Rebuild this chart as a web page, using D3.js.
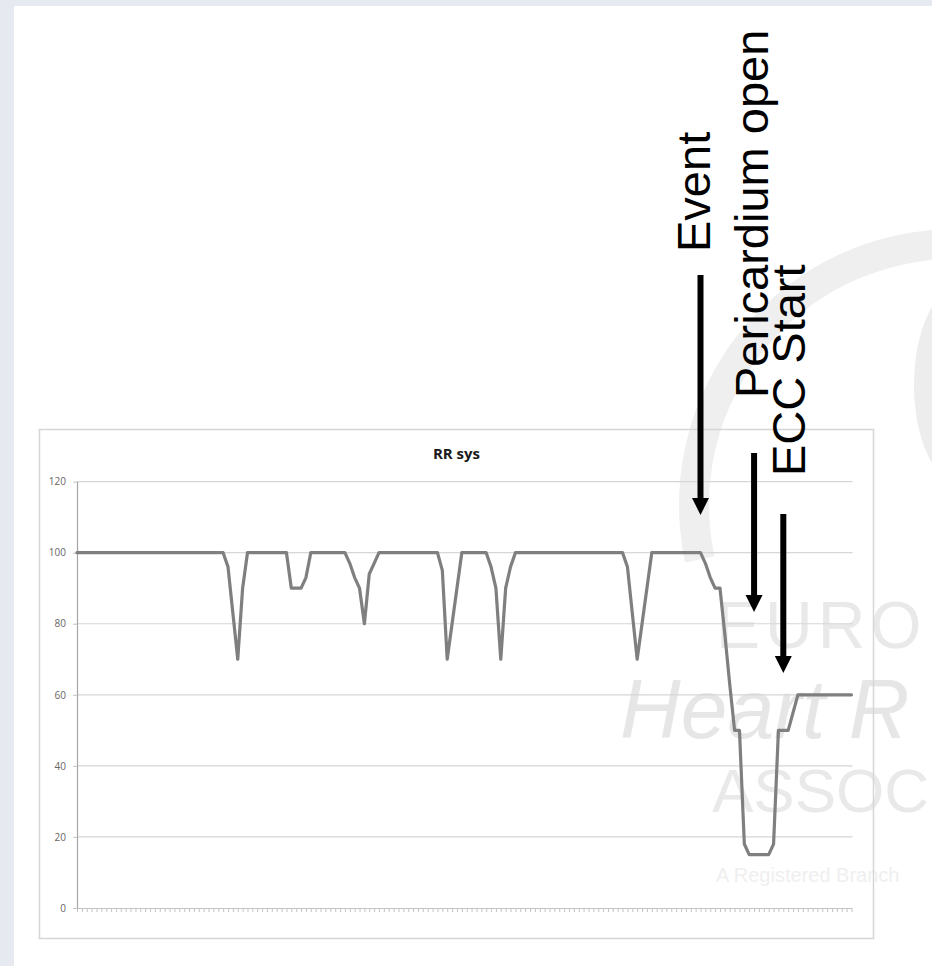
<!DOCTYPE html>
<html>
<head>
<meta charset="utf-8">
<script src="https://cdn.jsdelivr.net/npm/d3@7"></script>
<style>
  body { margin: 0; background: #ffffff; }
  svg { display: block; }
</style>
</head>
<body>
<div id="chart"></div>
<script>
// ---------------- DATA ----------------
const values = [
  100,100,100,100,100,100,100,100,100,100,
  100,100,100,100,100,100,100,100,100,100,
  100,100,100,100,100,100,100,100,100,100,
  100,96,83,70,90,100,100,100,100,100,
  100,100,100,100,90,90,90,93,100,100,
  100,100,100,100,100,100,97,93,90,80,
  94,97,100,100,100,100,100,100,100,100,
  100,100,100,100,100,95,70,80,90,100,
  100,100,100,100,100,96,90,70,90,96,
  100,100,100,100,100,100,100,100,100,100,
  100,100,100,100,100,100,100,100,100,100,
  100,100,100,96,83,70,80,90,100,100,
  100,100,100,100,100,100,100,100,100,97,
  93,90,90,77,63,50,50,18,15,15,
  15,15,15,18,50,50,50,55,60,60,
  60,60,60,60,60,60,60,60,60,60
];
const categories = values.map((_, i) => i + 1);
const yTicks = [0, 20, 40, 60, 80, 100, 120];
const chartTitle = "RR sys";
const annotationLabels = ["Event", "Pericardium open", "ECC Start"];
const annotationCategories = [129, 140, 146];
const watermarkLines = ["EURO", "Heart R", "ASSOC", "A Registered Branch"];

// ---------------- LAYOUT ----------------
const W = 932, H = 966;
const plot = { left: 77, right: 851.5, top: 481.6, bottom: 908 };
const box = { x: 39.5, y: 429.5, w: 834, h: 509 };
const arrowLayout = [
  { top: 275, tip: 515 },
  { top: 453, tip: 612 },
  { top: 514, tip: 673 }
];
const labelLayout = [
  { bx: 710, by: 252 },
  { bx: 768, by: 398 },
  { bx: 805, by: 476 }
];

const svg = d3.select("#chart").append("svg")
  .attr("width", W).attr("height", H)
  .attr("viewBox", `0 0 ${W} ${H}`);

// page background (slide frame)
svg.append("rect").attr("width", W).attr("height", H).attr("fill", "#e6e9ef");
svg.append("rect").attr("x", 14).attr("y", 6).attr("width", W - 14).attr("height", H - 6).attr("fill", "#ffffff");

// ---------------- WATERMARK ----------------
svg.append("clipPath").attr("id", "pageClip")
  .append("rect").attr("x", 14).attr("y", 6).attr("width", W - 14).attr("height", H - 6);
const wm = svg.append("g").attr("clip-path", "url(#pageClip)");
wm.append("ellipse")
  .attr("cx", 962).attr("cy", 385).attr("rx", 48).attr("ry", 100)
  .attr("fill", "#ededed");
wm.append("path")
  .attr("transform", "translate(955,505)")
  .attr("d", d3.arc().innerRadius(246).outerRadius(276)
    .startAngle(-102 * Math.PI / 180).endAngle(12 * Math.PI / 180)())
  .attr("fill", "#efefef");
const wmStyle = [
  { x: 716, y: 648, size: 66, style: "normal", spacing: 5, color: "#e9e9e9" },
  { x: 620, y: 738, size: 84, style: "italic", spacing: 0, color: "#e6e6e6" },
  { x: 712, y: 812, size: 62, style: "normal", spacing: 0, color: "#e9e9e9" },
  { x: 716, y: 882, size: 20, style: "normal", spacing: 0, color: "#efefef" }
];
wm.selectAll("text.wm").data(watermarkLines).join("text")
  .attr("class", "wm")
  .attr("x", (d, i) => wmStyle[i].x)
  .attr("y", (d, i) => wmStyle[i].y)
  .attr("font-family", "'Liberation Sans', Arial, sans-serif")
  .attr("font-size", (d, i) => wmStyle[i].size)
  .attr("font-style", (d, i) => wmStyle[i].style)
  .attr("letter-spacing", (d, i) => wmStyle[i].spacing)
  .attr("fill", (d, i) => wmStyle[i].color)
  .text(d => d);

// ---------------- CHART ----------------
svg.append("rect")
  .attr("x", box.x).attr("y", box.y).attr("width", box.w).attr("height", box.h)
  .attr("fill", "none").attr("stroke", "#d6d6d6").attr("stroke-width", 1.5);

const x = d3.scalePoint().domain(categories).range([plot.left, plot.right]);
const y = d3.scaleLinear().domain([0, 120]).range([plot.bottom, plot.top]);

// gridlines
svg.append("g").selectAll("line").data(yTicks.filter(t => t > 0)).join("line")
  .attr("x1", plot.left).attr("x2", plot.right + 1)
  .attr("y1", d => y(d)).attr("y2", d => y(d))
  .attr("stroke", "#d6d6d6").attr("stroke-width", 1.2);

// x axis
const xAxis = svg.append("g").attr("transform", `translate(0,${plot.bottom})`)
  .call(d3.axisBottom(x).tickFormat("").tickSize(4).tickSizeOuter(0));
xAxis.select(".domain").attr("stroke", "#c4c4c4");
xAxis.selectAll(".tick line").attr("stroke", "#c4c4c4");

// y axis
const yAxis = svg.append("g").attr("transform", `translate(${plot.left},0)`)
  .call(d3.axisLeft(y).tickValues(yTicks).tickSize(4).tickSizeOuter(0).tickPadding(7));
yAxis.select(".domain").attr("stroke", "#a6a6a6").attr("stroke-width", 1.2);
yAxis.selectAll(".tick line").attr("stroke", "#c4c4c4");
yAxis.selectAll(".tick text")
  .attr("font-family", "'Open Sans', sans-serif")
  .attr("font-size", 10)
  .attr("fill", "#666666");

// series line
svg.append("path")
  .datum(values)
  .attr("fill", "none")
  .attr("stroke", "#7f7f7f")
  .attr("stroke-width", 3.2)
  .attr("stroke-linejoin", "round")
  .attr("stroke-linecap", "round")
  .attr("d", d3.line().x((d, i) => x(categories[i])).y(d => y(d)));

// title
svg.append("text")
  .attr("x", box.x + box.w / 2).attr("y", 459)
  .attr("text-anchor", "middle")
  .attr("font-family", "'Open Sans', sans-serif")
  .attr("font-weight", "bold")
  .attr("font-size", 15)
  .attr("fill", "#1a1a1a")
  .text(chartTitle);

// ---------------- ANNOTATIONS ----------------
const ann = svg.append("g");
annotationCategories.forEach((c, i) => {
  const ax = x(c);
  const a = arrowLayout[i];
  const headLen = 17, headHalf = 8.5;
  ann.append("line")
    .attr("x1", ax).attr("x2", ax)
    .attr("y1", a.top).attr("y2", a.tip - headLen + 1)
    .attr("stroke", "#000").attr("stroke-width", 6);
  ann.append("path")
    .attr("d", `M${ax - headHalf},${a.tip - headLen} L${ax + headHalf},${a.tip - headLen} L${ax},${a.tip} Z`)
    .attr("fill", "#000");
});
ann.selectAll("text.lab").data(annotationLabels).join("text")
  .attr("class", "lab")
  .attr("transform", (d, i) => `translate(${labelLayout[i].bx},${labelLayout[i].by}) rotate(-90)`)
  .attr("font-family", "'Liberation Sans', Arial, sans-serif")
  .attr("font-size", 47)
  .attr("fill", "#000")
  .text(d => d);
</script>
</body>
</html>
